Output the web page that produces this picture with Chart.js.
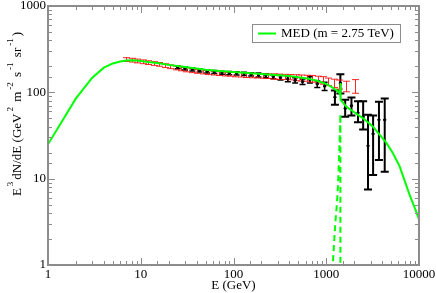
<!DOCTYPE html>
<html>
<head>
<meta charset="utf-8">
<script src="https://cdn.jsdelivr.net/npm/chart.js@4.4.1/dist/chart.umd.min.js"></script>
<style>
  html, body { margin: 0; padding: 0; background: #fff; }
  #wrap { width: 436px; height: 293px; }
</style>
</head>
<body>
<div id="wrap"><canvas id="myChart"></canvas></div>
<script>
const modelLabel = 'MED (m = 2.75 TeV)';

// model curve (solid) and line-like feature (dashed)
const medE = [1, 1.5, 2, 3, 4, 5, 6, 7, 8, 9, 10, 12, 15, 20, 30, 50, 70, 100, 200, 400, 600, 800, 1000, 1175, 1330, 1390, 1410, 1420, 1435, 1514, 1650, 1950, 2500, 3190, 3700, 4450, 5200, 6170, 7000, 8000, 9000, 10000];
const medFlux = [25, 51, 85, 148, 193, 216, 228, 233, 235, 234, 231, 225, 218, 208, 196, 183, 177, 172, 163, 155, 146, 136, 125, 113, 103, 98, 110, 128, 82, 76, 68, 60, 50, 40, 33, 26, 20, 14, 9.5, 6.3, 4.6, 3.4];
const featE = [1100, 1175, 1250, 1306, 1340, 1380, 1410, 1420, 1421];
const featFlux = [0.5, 1.0, 3.0, 5.3, 8.5, 20, 40, 56, 0.3];

// red data set
const redE = [7.0, 8.0, 9.2, 10.5, 12.0, 13.8, 15.8, 18.1, 20.7, 23.7, 27.2, 31.1, 35.6, 40.8, 46.7, 53.5, 61.3, 70.2, 80.4, 92.1, 105, 121, 138, 158, 181, 208, 238, 272, 312, 357, 409, 469, 537, 615, 704, 806, 923, 1057, 1210, 1386, 1650, 2030];
const redFlux = [240, 236, 231, 226, 221, 216, 211, 204, 198, 192, 187, 182, 178, 175, 172, 169, 167, 165, 163, 162, 161, 160, 158, 157, 156, 155, 154, 153, 152, 151, 150, 148, 147, 146, 144, 141, 138, 133, 128, 124, 118, 119];
const redErr = [0.05, 0.05, 0.05, 0.05, 0.05, 0.05, 0.05, 0.05, 0.05, 0.05, 0.05, 0.05, 0.05, 0.05, 0.05, 0.05, 0.05, 0.05, 0.05, 0.05, 0.06, 0.06, 0.06, 0.06, 0.06, 0.06, 0.06, 0.07, 0.07, 0.07, 0.07, 0.08, 0.08, 0.08, 0.09, 0.09, 0.1, 0.1, 0.11, 0.12, 0.14, 0.18];

// black data set
const blackE = [25, 30, 36, 43, 52, 62, 75, 90, 108, 130, 155, 186, 223, 268, 321, 385, 462, 555, 666, 800, 960, 1240, 1420, 1600, 1870, 2200, 2500, 2820, 3200, 3700, 4270];
const blackFlux = [195, 189, 184, 179, 175, 172, 169, 167, 166, 164, 162, 159, 156, 152, 148, 143, 138, 133, 140, 125, 118, 88, 128, 65, 70, 58, 52, 24, 33, 48, 48];
const blackLo = [188, 182, 177, 172, 168, 165, 162, 160, 159, 157, 155, 151, 148, 144, 139, 133, 128, 123, 128, 114, 105, 72, 97, 52, 54, 45, 37, 7.5, 11, 16.5, 12];
const blackHi = [202, 196, 191, 186, 182, 179, 176, 174, 173, 171, 169, 167, 164, 160, 157, 153, 148, 143, 152, 136, 131, 105, 162, 82, 87, 79, 79, 55, 54, 78, 85];

const xTicks = [1, 10, 100, 1000, 10000];
const yTicks = [1, 10, 100, 1000];
const SERIF = '"Liberation Serif", "DejaVu Serif", serif';

const isDecade = v => Math.abs(Math.log10(v) - Math.round(Math.log10(v))) < 1e-6;

const framePlugin = {
  id: 'frame',
  beforeDatasetsDraw(chart) {
    const ctx = chart.ctx;
    const xs = chart.scales.x, ys = chart.scales.y;
    ctx.save();
    // black bars
    ctx.strokeStyle = '#000';
    for (let i = 0; i < blackE.length; i++) {
      const px = xs.getPixelForValue(blackE[i]);
      const lo = ys.getPixelForValue(blackLo[i]);
      const hi = ys.getPixelForValue(blackHi[i]);
      const cap = blackE[i] > 1000 ? 4 : 3;
      ctx.lineWidth = blackE[i] > 1000 ? 2 : 1.5;
      ctx.beginPath();
      ctx.moveTo(px, lo); ctx.lineTo(px, hi);
      ctx.moveTo(px - cap, lo); ctx.lineTo(px + cap, lo);
      ctx.moveTo(px - cap, hi); ctx.lineTo(px + cap, hi);
      ctx.stroke();
    }
    // red bars
    ctx.strokeStyle = 'rgba(255,0,0,0.85)';
    ctx.lineWidth = 1;
    for (let i = 0; i < redE.length; i++) {
      const px = Math.round(xs.getPixelForValue(redE[i])) + 0.5;
      const lo = ys.getPixelForValue(redFlux[i] * (1 - redErr[i]));
      const hi = ys.getPixelForValue(redFlux[i] * (1 + redErr[i]));
      ctx.beginPath();
      ctx.moveTo(px, lo); ctx.lineTo(px, hi);
      ctx.moveTo(px - 3.5, lo); ctx.lineTo(px + 3.5, lo);
      ctx.moveTo(px - 3.5, hi); ctx.lineTo(px + 3.5, hi);
      ctx.stroke();
    }
    ctx.restore();
  },
  afterDraw(chart) {
    const ctx = chart.ctx;
    const a = chart.chartArea;
    const xs = chart.scales.x, ys = chart.scales.y;
    ctx.save();
    // tick marks inside on all four sides
    ctx.strokeStyle = '#8c8c8c';
    ctx.lineWidth = 1;
    ctx.beginPath();
    xs.ticks.forEach(t => {
      const px = Math.round(xs.getPixelForValue(t.value)) + 0.5;
      const len = isDecade(t.value) ? 7 : 4;
      ctx.moveTo(px, a.bottom); ctx.lineTo(px, a.bottom - len);
      ctx.moveTo(px, a.top); ctx.lineTo(px, a.top + len);
    });
    ys.ticks.forEach(t => {
      const py = Math.round(ys.getPixelForValue(t.value)) + 0.5;
      const len = isDecade(t.value) ? 7 : 4;
      ctx.moveTo(a.left, py); ctx.lineTo(a.left + len, py);
      ctx.moveTo(a.right, py); ctx.lineTo(a.right - len, py);
    });
    ctx.stroke();
    // frame
    ctx.lineWidth = 2;
    ctx.strokeRect(a.left, a.top, a.right - a.left, a.bottom - a.top);

    // tick labels
    ctx.fillStyle = '#000';
    ctx.font = '13px ' + SERIF;
    ctx.textAlign = 'center';
    ctx.textBaseline = 'alphabetic';
    xTicks.forEach(v => ctx.fillText(String(v), xs.getPixelForValue(v), 278));
    ctx.textAlign = 'right';
    ctx.textBaseline = 'middle';
    yTicks.forEach(v => ctx.fillText(String(v), a.left - 2, ys.getPixelForValue(v)));

    // x title
    ctx.textAlign = 'center';
    ctx.fillText('E (GeV)', (a.left + a.right) / 2, 286);

    // y title with superscripts
    const parts = [
      {t: 'E'}, {t: '3', sup: true}, {t: 'dN/dE (GeV'}, {t: '2', sup: true},
      {t: ' m'}, {t: '-2', sup: true}, {t: ' s'}, {t: '-1', sup: true},
      {t: ' sr'}, {t: '-1', sup: true}, {t: ')'}
    ];
    const mainFont = '13px ' + SERIF, supFont = '9px ' + SERIF;
    let total = 0;
    parts.forEach(p => {
      ctx.font = p.sup ? supFont : mainFont;
      p.w = ctx.measureText(p.t).width + (p.sup ? 4 : 0);
      total += p.w;
    });
    ctx.translate(21, 114);
    ctx.rotate(-Math.PI / 2);
    ctx.textAlign = 'left';
    ctx.textBaseline = 'alphabetic';
    let cx = -total / 2;
    parts.forEach(p => {
      ctx.font = p.sup ? supFont : mainFont;
      ctx.fillText(p.t, cx + (p.sup ? 2 : 0), p.sup ? -8 : 0);
      cx += p.w;
    });
    ctx.restore();

    // legend box
    ctx.save();
    ctx.fillStyle = '#fff';
    ctx.fillRect(252.5, 24.5, 148, 18);
    ctx.strokeStyle = '#8c8c8c';
    ctx.lineWidth = 1;
    ctx.strokeRect(252.5, 24.5, 148, 18);
    ctx.strokeStyle = '#00ff00';
    ctx.lineWidth = 2;
    ctx.beginPath();
    ctx.moveTo(258, 33.5); ctx.lineTo(276, 33.5);
    ctx.stroke();
    ctx.fillStyle = '#000';
    ctx.font = '13px ' + SERIF;
    ctx.textAlign = 'left';
    ctx.textBaseline = 'middle';
    ctx.fillText(modelLabel, 281, 34);
    ctx.restore();
  }
};

const data = {
  datasets: [
    {
      label: modelLabel,
      data: medE.map((e, i) => ({x: e, y: medFlux[i]})),
      borderColor: '#00ff00',
      borderWidth: 2,
      pointRadius: 0,
      showLine: true,
      tension: 0,
      order: 1
    },
    {
      label: 'feature',
      data: featE.map((e, i) => ({x: e, y: featFlux[i]})),
      borderColor: '#00ff00',
      borderWidth: 2,
      borderDash: [6, 4],
      pointRadius: 0,
      showLine: true,
      tension: 0,
      order: 2
    },
    {
      label: 'red data',
      data: redE.map((e, i) => ({x: e, y: redFlux[i]})),
      pointRadius: 0,
      showLine: false,
      order: 3
    },
    {
      label: 'black data',
      data: blackE.map((e, i) => ({x: e, y: blackFlux[i]})),
      backgroundColor: '#000',
      borderColor: '#000',
      pointRadius: 1.2,
      showLine: false,
      order: 4
    }
  ]
};

const config = {
  type: 'scatter',
  data: data,
  options: {
    responsive: true,
    maintainAspectRatio: false,
    animation: false,
    layout: { padding: { top: 6, right: 17, left: 0, bottom: 0 } },
    scales: {
      x: {
        type: 'logarithmic',
        min: 1,
        max: 10000,
        grid: { display: false },
        border: { display: false },
        afterFit: s => { s.height = 28; },
        ticks: { display: false, autoSkip: false }
      },
      y: {
        type: 'logarithmic',
        min: 1,
        max: 1000,
        grid: { display: false },
        border: { display: false },
        afterFit: s => { s.width = 48; },
        ticks: { display: false, autoSkip: false }
      }
    },
    plugins: {
      legend: { display: false },
      tooltip: { enabled: false }
    }
  },
  plugins: [framePlugin]
};

const myChart = new Chart(document.getElementById('myChart'), config);
</script>
</body>
</html>
